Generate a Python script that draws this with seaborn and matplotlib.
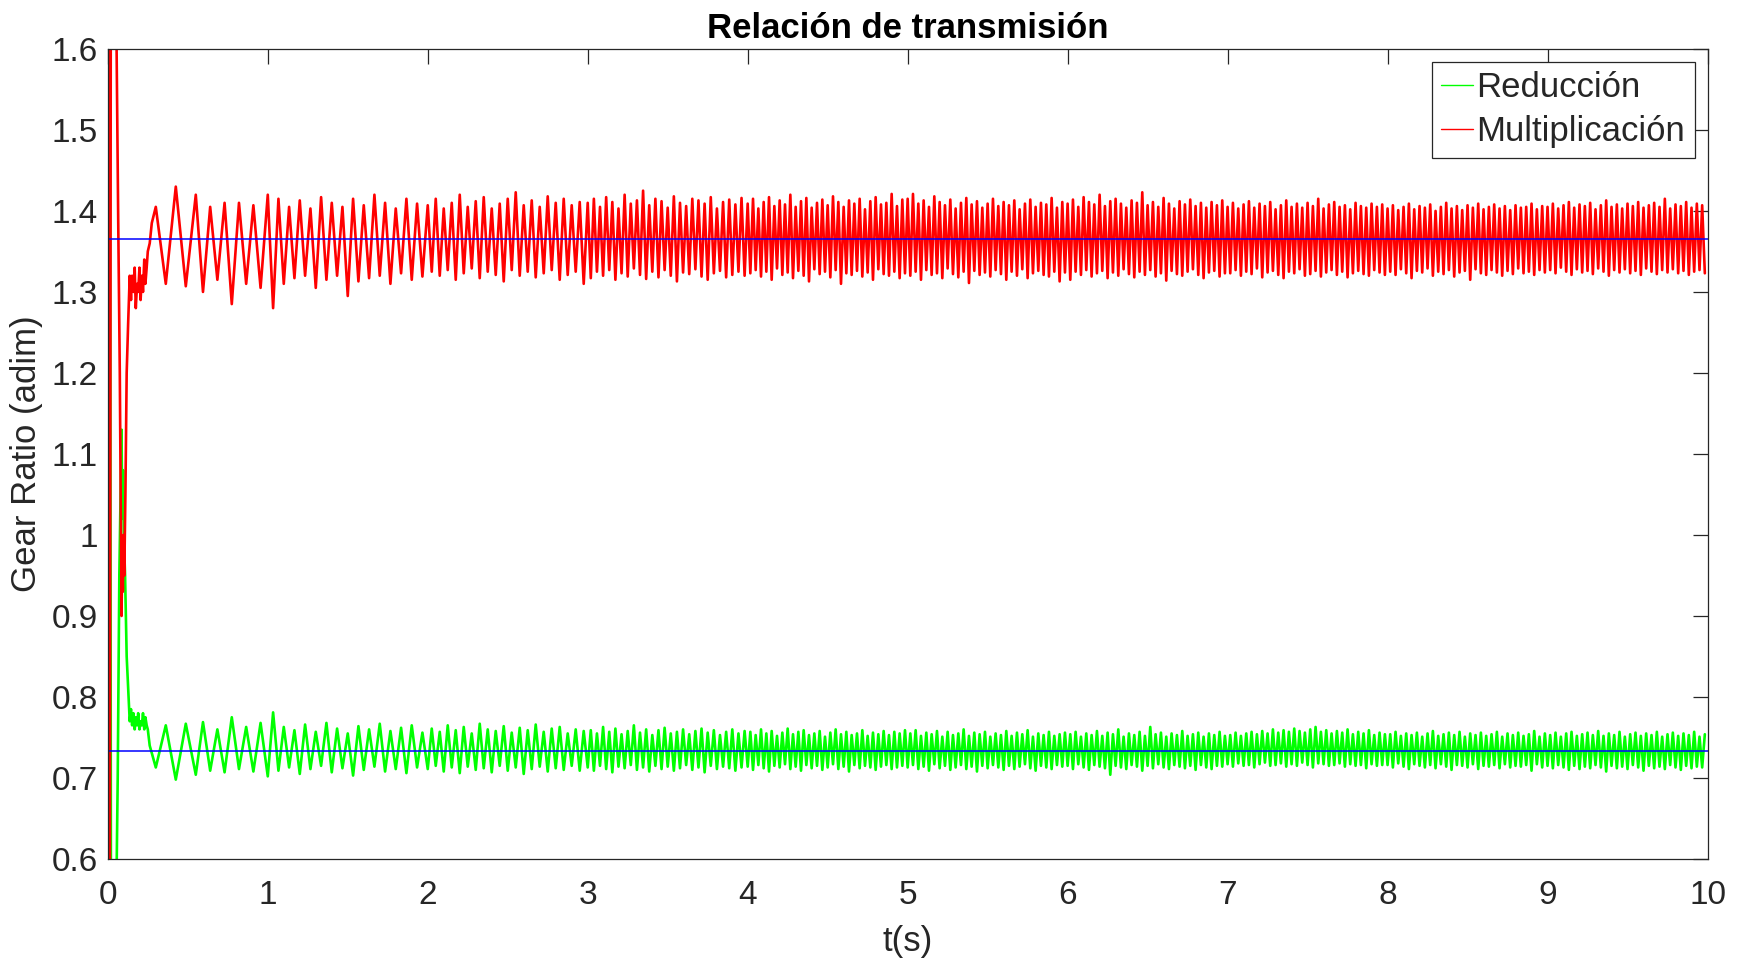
import numpy as np
import pandas as pd
import matplotlib
matplotlib.use("Agg")
import matplotlib.pyplot as plt
import seaborn as sns

# ---------------- data ----------------
title = "Relación de transmisión"
xlabel = "t(s)"
ylabel = "Gear Ratio (adim)"
labels = ["Reducción", "Multiplicación"]
x_ticks = [0, 1, 2, 3, 4, 5, 6, 7, 8, 9, 10]
y_ticks = [0.6, 0.7, 0.8, 0.9, 1.0, 1.1, 1.2, 1.3, 1.4, 1.5, 1.6]

red_ref = 1.365   # steady-state multiplication ratio
green_ref = 0.733 # steady-state reduction ratio

# start-up transient (t, value)
red_tr_t = [0.0, 0.004, 0.012, 0.02, 0.05, 0.055, 0.065, 0.075, 0.082, 0.086, 0.09, 0.094, 0.098,
            0.103, 0.11, 0.118, 0.127, 0.137, 0.145, 0.152, 0.16, 0.168, 0.175, 0.183, 0.19, 0.198,
            0.205, 0.213, 0.22, 0.228, 0.235, 0.243, 0.25, 0.262, 0.275]
red_tr_v = [0.45, 1.9, 0.4, 1.9, 1.9, 1.6, 1.39, 1.2, 1.0, 0.9, 0.98, 0.93, 1.0,
            0.95, 1.05, 1.2, 1.26, 1.32, 1.29, 1.32, 1.30, 1.33, 1.28, 1.31, 1.30, 1.33,
            1.29, 1.32, 1.30, 1.34, 1.31, 1.33, 1.35, 1.36, 1.385]
green_tr_t = [0.0, 0.004, 0.012, 0.02, 0.05, 0.062, 0.072, 0.08, 0.086, 0.09, 0.095, 0.1, 0.108,
              0.118, 0.13, 0.137, 0.145, 0.152, 0.16, 0.168, 0.175, 0.183, 0.19, 0.198, 0.205,
              0.213, 0.22, 0.228, 0.235, 0.243, 0.25, 0.262]
green_tr_v = [1.9, 0.45, 1.9, 0.45, 0.5, 0.7, 0.95, 1.05, 1.13, 1.02, 1.08, 1.0, 0.95,
              0.85, 0.8, 0.77, 0.785, 0.765, 0.78, 0.76, 0.775, 0.765, 0.78, 0.76, 0.77,
              0.765, 0.78, 0.76, 0.775, 0.765, 0.76, 0.74]

# oscillation segments (s); per segment: peak / trough deviations from the reference, in 1/1000
seg_edges = [0.30, 0.55, 1.0, 2.0, 3.0, 4.0, 5.0, 6.0, 7.0, 8.0, 9.0, 10.0]

red_hi = [
    [40, 65],
    [55, 40, 45, 45, 42],
    [55, 50, 40, 48, 38, 52, 45, 40, 50, 42, 55, 45, 38, 50, 44],
    [42, 50, 38, 45, 55, 40, 47, 52, 38, 44, 50, 58, 42, 48, 40, 53, 45, 50, 42, 46],
    [45, 50, 40, 52, 46, 38, 55, 44, 48, 60, 42, 50, 47, 39, 53, 45, 41, 50, 48, 44, 52, 38, 46, 49, 43, 51],
    [44, 50, 38, 46, 52, 41, 48, 43, 55, 40, 47, 51, 39, 45, 49, 42, 53, 46, 40, 48, 44, 50, 37, 47, 52, 43, 45, 56, 41, 49],
    [50, 56, 44, 48, 40, 53, 46, 42, 49, 38, 45, 51, 43, 47, 39, 44, 50, 41, 46, 42, 48, 37, 44, 49, 40, 45, 43, 51, 39, 46],
    [44, 49, 40, 52, 46, 43, 55, 41, 47, 50, 44, 39, 48, 45, 58, 42, 46, 40, 51, 44, 38, 47, 43, 49, 41, 45, 39, 46, 42, 48],
    [40, 45, 38, 43, 47, 39, 44, 41, 46, 37, 42, 48, 40, 44, 39, 45, 41, 50, 38, 43, 46, 40, 42, 37, 45, 41, 39, 44, 40, 43],
    [38, 42, 36, 40, 44, 37, 41, 39, 43, 35, 40, 45, 38, 41, 36, 42, 39, 44, 37, 40, 43, 38, 41, 36, 42, 39, 40, 44, 37, 41],
    [40, 44, 38, 42, 46, 39, 43, 41, 45, 37, 42, 48, 40, 43, 38, 44, 41, 46, 39, 42, 45, 40, 50, 38, 43, 41, 46, 39, 44, 42],
]
red_lo = [
    [-55, -58],
    [-65, -50, -80, -55, -60],
    [-85, -55, -48, -45, -60, -50, -45, -70, -52, -48, -45, -55, -42, -50, -46],
    [-40, -45, -38, -50, -42, -36, -48, -40, -44, -52, -38, -45, -40, -47, -42, -38, -50, -44, -40, -55],
    [-48, -40, -45, -38, -50, -42, -46, -36, -44, -49, -40, -47, -38, -45, -52, -41, -43, -37, -46, -50, -42, -39, -47, -44, -40, -45],
    [-42, -38, -46, -40, -50, -36, -44, -41, -48, -39, -45, -52, -37, -43, -40, -47, -38, -55, -42, -44, -39, -46, -41, -50, -37, -43, -45, -40, -48, -42],
    [-45, -40, -50, -38, -44, -42, -48, -36, -43, -47, -40, -54, -39, -44, -41, -46, -38, -43, -50, -40, -45, -37, -48, -42, -39, -44, -46, -40, -52, -41],
    [-50, -40, -44, -38, -46, -42, -39, -48, -41, -45, -37, -43, -47, -40, -44, -38, -46, -42, -51, -39, -43, -45, -40, -37, -44, -48, -41, -39, -46, -42],
    [-42, -38, -45, -40, -43, -36, -47, -41, -39, -44, -48, -40, -42, -37, -45, -43, -39, -46, -41, -38, -44, -40, -47, -42, -39, -43, -45, -38, -41, -44],
    [-40, -44, -37, -42, -48, -39, -41, -36, -45, -40, -43, -38, -46, -41, -39, -50, -37, -42, -44, -38, -41, -45, -39, -43, -36, -42, -40, -44, -38, -41],
    [-38, -42, -35, -40, -44, -37, -41, -39, -43, -36, -40, -45, -38, -41, -37, -42, -39, -44, -36, -40, -43, -38, -41, -37, -42, -39, -44, -40, -38, -42],
]
green_hi = [
    [32, 34],
    [36, 27, 42, 30, 35],
    [48, 30, 26, 33, 24, 35, 28, 22, 31, 27, 34, 25, 29, 32, 23],
    [28, 24, 32, 26, 30, 22, 34, 27, 25, 31, 23, 29, 26, 33, 24, 28, 30, 22, 27, 25],
    [26, 22, 30, 24, 28, 21, 25, 32, 23, 27, 20, 26, 29, 22, 24, 27, 21, 25, 28, 23, 26, 20, 24, 27, 22, 25],
    [24, 20, 27, 22, 25, 19, 23, 28, 21, 24, 26, 20, 22, 25, 18, 23, 27, 21, 24, 20, 22, 26, 19, 23, 21, 25, 20, 24, 22, 26],
    [22, 26, 19, 23, 21, 25, 18, 24, 20, 22, 27, 19, 23, 21, 24, 18, 22, 20, 25, 19, 23, 21, 26, 18, 22, 20, 24, 19, 21, 23],
    [21, 24, 18, 22, 20, 25, 19, 23, 21, 27, 18, 22, 20, 24, 19, 30, 21, 23, 18, 22, 20, 25, 19, 21, 23, 18, 22, 20, 24, 19],
    [20, 23, 19, 22, 24, 21, 25, 22, 27, 23, 26, 24, 28, 25, 23, 27, 30, 24, 26, 22, 25, 23, 27, 21, 24, 22, 26, 20, 23, 21],
    [21, 24, 19, 22, 20, 23, 18, 22, 25, 19, 21, 23, 20, 24, 18, 22, 20, 23, 19, 21, 24, 18, 22, 20, 23, 19, 21, 25, 18, 22],
    [20, 23, 18, 22, 24, 19, 21, 23, 20, 25, 19, 22, 20, 24, 18, 21, 23, 19, 22, 20, 24, 18, 21, 23, 19, 22, 20, 24, 18, 21],
]
green_lo = [
    [-20, -35],
    [-29, -24, -26, -22, -25],
    [-31, -24, -20, -28, -22, -18, -26, -21, -30, -23, -19, -25, -22, -27, -20],
    [-22, -18, -25, -20, -27, -19, -23, -21, -26, -18, -24, -20, -28, -22, -19, -25, -21, -23, -18, -24],
    [-20, -24, -18, -22, -26, -19, -21, -17, -23, -20, -25, -18, -22, -19, -24, -21, -17, -23, -20, -26, -18, -22, -19, -21, -24, -20],
    [-19, -23, -17, -21, -25, -18, -20, -16, -22, -19, -24, -17, -21, -18, -23, -20, -16, -22, -19, -25, -17, -21, -18, -20, -23, -19, -17, -22, -20, -18],
    [-20, -17, -22, -19, -24, -16, -21, -18, -23, -20, -17, -22, -19, -25, -18, -21, -17, -20, -23, -18, -22, -19, -16, -21, -24, -18, -20, -22, -17, -19],
    [-18, -22, -16, -20, -23, -17, -19, -21, -29, -18, -20, -22, -17, -19, -24, -18, -21, -16, -20, -22, -17, -19, -21, -18, -23, -17, -20, -22, -18, -19],
    [-16, -19, -15, -18, -17, -20, -16, -14, -18, -17, -15, -19, -16, -18, -14, -17, -20, -15, -16, -18, -17, -15, -19, -16, -18, -17, -21, -16, -18, -17],
    [-17, -20, -15, -19, -22, -16, -18, -20, -17, -21, -16, -19, -23, -17, -18, -20, -16, -22, -18, -19, -17, -21, -16, -20, -18, -19, -17, -24, -16, -20],
    [-18, -21, -17, -20, -23, -18, -22, -19, -21, -17, -20, -25, -18, -21, -19, -22, -17, -20, -24, -18, -21, -19, -22, -17, -20, -23, -18, -21, -19, -20],
]


def build_series(tr_t, tr_v, ref, hi_rows, lo_rows, hi_phase, lo_phase):
    pts = list(zip(tr_t, tr_v))
    osc = []
    for k in range(len(seg_edges) - 1):
        a, b = seg_edges[k], seg_edges[k + 1]
        for rows, ph in ((hi_rows[k], hi_phase), (lo_rows[k], lo_phase)):
            n = len(rows)
            p = (b - a) / n
            for i, d in enumerate(rows):
                osc.append((a + (i + ph) * p, ref + d / 1000.0))
    osc.sort(key=lambda q: q[0])
    pts += osc
    return pd.DataFrame(pts, columns=["t", "v"])


df_green = build_series(green_tr_t, green_tr_v, green_ref, green_hi, green_lo, 0.5, 0.0)
df_red = build_series(red_tr_t, red_tr_v, red_ref, red_hi, red_lo, 0.0, 0.5)

# ---------------- plot ----------------
sns.set_theme(style="white")
plt.rcParams["font.family"] = ["Liberation Sans", "DejaVu Sans"]

W, H = 1742, 958
fig = plt.figure(figsize=(W / 100, H / 100), dpi=100)
ax = fig.add_axes([107.8 / W, 1 - 859 / H, (1707.5 - 107.8) / W, (859 - 48.9) / H])

sns.lineplot(data=df_green, x="t", y="v", ax=ax, color=(0, 1, 0), lw=1.9,
             estimator=None, sort=False, label=labels[0])
sns.lineplot(data=df_red, x="t", y="v", ax=ax, color=(1, 0, 0), lw=1.9,
             estimator=None, sort=False, label=labels[1])
ax.axhline(red_ref, color=(0, 0, 1), lw=1.1)
ax.axhline(green_ref, color=(0, 0, 1), lw=1.1)

ax.set_xlim(0, 10)
ax.set_ylim(0.6, 1.6)
ax.set_xticks(x_ticks)
ax.set_xticklabels([f"{v:g}" for v in x_ticks])
ax.set_yticks(y_ticks)
ax.set_yticklabels([f"{v:g}" for v in y_ticks])

edge = "#262626"
for s in ax.spines.values():
    s.set_color(edge)
    s.set_linewidth(0.9)
ax.tick_params(axis="both", which="major", direction="in", length=11, width=0.9,
               color=edge, labelcolor="#262626", labelsize=24,
               top=True, right=True)
ax.tick_params(axis="x", pad=15)
ax.tick_params(axis="y", pad=7)

ax.set_title(title, fontsize=25, fontweight="bold", color="black", pad=8)
ax.set_xlabel(xlabel, fontsize=25, color="#262626", labelpad=10)
ax.set_ylabel(ylabel, fontsize=25, color="#262626", labelpad=6)

leg = ax.legend(loc="upper right", fontsize=25, frameon=True, fancybox=False,
                framealpha=1, edgecolor=edge, handlelength=0.9, handletextpad=0.1,
                labelspacing=0.3, borderpad=0.28, borderaxespad=0.37)
leg.get_frame().set_linewidth(0.9)
for h in leg.legend_handles:
    h.set_linewidth(1.0)

fig.savefig("out.png", dpi=100)
